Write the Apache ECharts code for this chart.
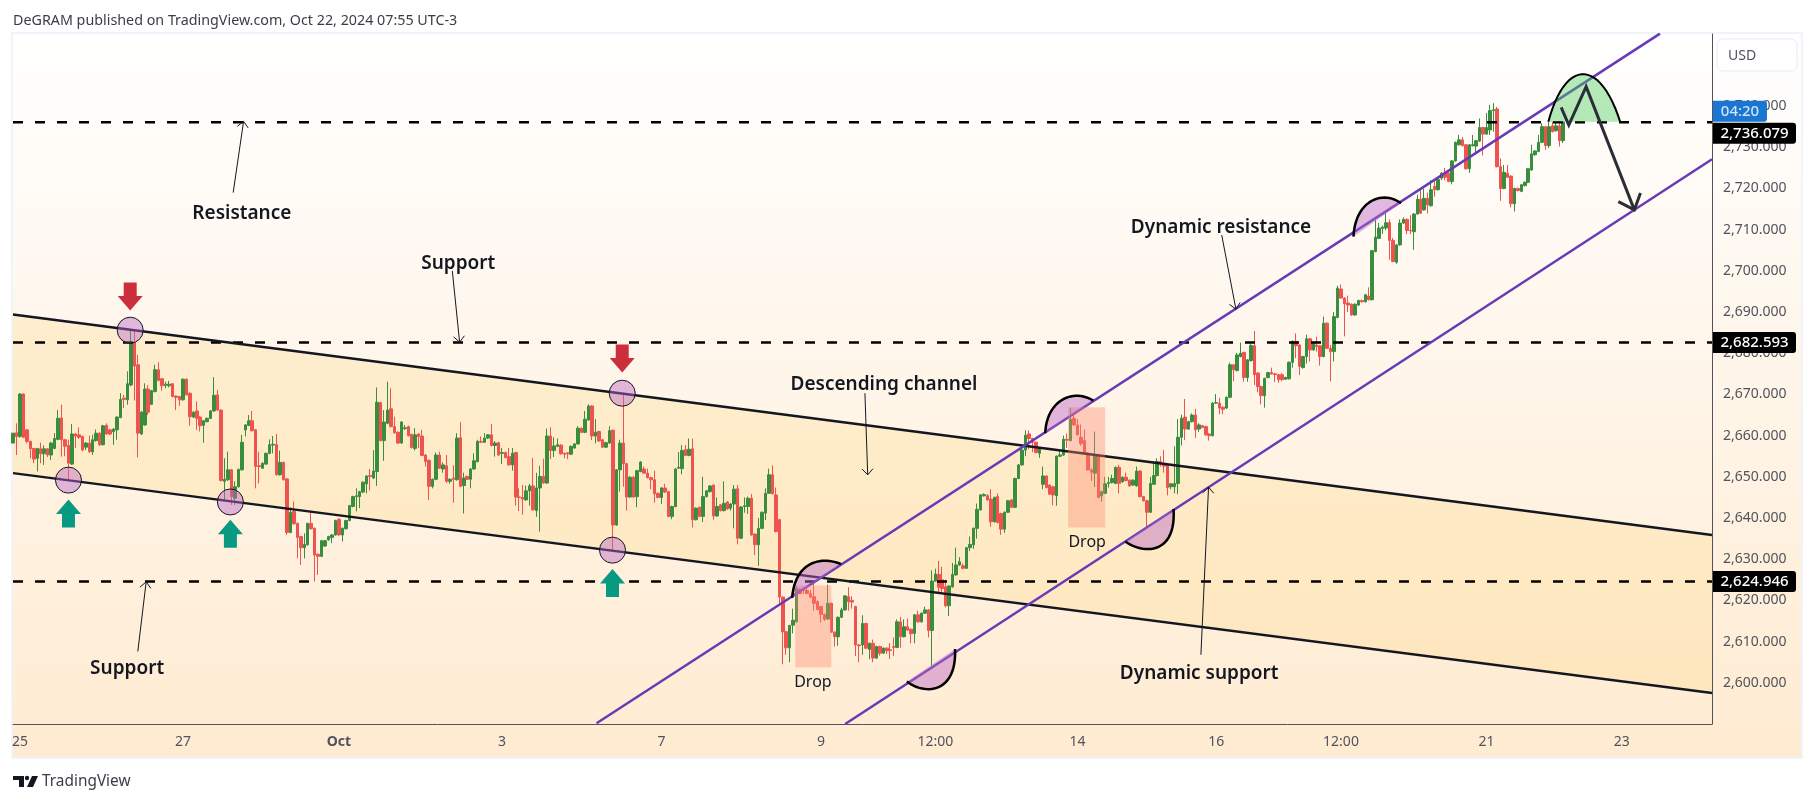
<!DOCTYPE html>
<html>
<head>
<meta charset="utf-8">
<style>
html,body{margin:0;padding:0;background:#fff}
#main{width:1815px;height:802px}
</style>
<script src="https://cdn.jsdelivr.net/npm/echarts@6/dist/echarts.min.js"></script>
</head>
<body>
<div id="main"></div>
<script>
// hourly candles: open, close, low, high
var candles = [
[2658.2,2660.6,2658.2,2660.6],[2660.7,2659.8,2655.3,2663],[2659.8,2670.1,2659.5,2670.3],[2670.1,2659.6,2659.4,2670.3],[2661.4,2658.6,2658.1,2661.6],
[2658.6,2656.8,2654.5,2658.8],[2656.9,2654.3,2653.3,2657],[2654.5,2656.9,2651.3,2657],[2656.8,2655.6,2653.3,2658.3],[2655.6,2656.8,2652.9,2657.6],
[2656.8,2655.3,2654.8,2657],[2655.3,2658.2,2654.1,2658.5],[2656.9,2659.3,2656.7,2660.6],[2659.1,2664.2,2658.9,2666.2],[2664.3,2659,2654.9,2667.5],
[2659,2657.4,2655,2659.2],[2657.6,2653.3,2649.3,2659],[2653.1,2660.4,2652.9,2662.8],[2660.4,2659.9,2657,2660.6],[2660.2,2659.6,2659.2,2662],
[2659.8,2656.5,2656.2,2660],[2657.2,2658.2,2656.5,2658.4],[2658.2,2656.1,2655.8,2660],[2656.1,2659,2655.3,2660.2],[2658.8,2660.6,2658.5,2661.5],
[2660.6,2657.8,2657.5,2660.8],[2657.8,2662.4,2657.6,2662.6],[2662.5,2660.4,2660.2,2663],[2661.4,2660.4,2660.2,2661.6],[2661,2661.6,2657.8,2661.8],
[2661.4,2664.5,2659,2664.7],[2664.4,2668.8,2664.2,2670.3],[2669.1,2668.8,2666.7,2669.9],[2668.7,2672.6,2667.5,2675.6],[2672.3,2682.7,2672,2685.7],
[2682.6,2676.9,2668.5,2685.7],[2677.2,2660.6,2654.7,2679.6],[2660.4,2665.7,2660.2,2666],[2662.6,2671.3,2662.4,2672.7],[2671.3,2665.7,2665,2672.3],
[2667.6,2670.9,2667.4,2671.1],[2670.7,2676,2670.5,2677.2],[2676,2673.4,2673.2,2677.8],[2673.8,2672.1,2670.9,2674],[2672.2,2672.5,2671.5,2673.1],
[2672.1,2672.5,2671.7,2673.3],[2672.6,2669.5,2669.3,2672.8],[2669.6,2669.3,2666.2,2669.8],[2669.5,2668.7,2667.2,2669.7],[2668.7,2673.7,2668.5,2673.9],
[2673.7,2669.9,2669.7,2673.9],[2670.3,2664.6,2662.4,2670.5],[2664.5,2665.7,2664.3,2665.9],[2666,2664.2,2661.4,2668.3],[2664.5,2662.4,2661,2664.7],
[2662.5,2663.6,2658.3,2663.8],[2663.4,2664.2,2663.2,2664.4],[2664.2,2666,2664,2666.2],[2666,2669.8,2665.8,2674.2],[2669.9,2666.2,2666,2671.1],
[2666.2,2649.1,2648.9,2666.4],[2648.9,2649.4,2644.4,2654.5],[2649.3,2651.7,2649,2656.1],[2651.7,2645.2,2643.2,2651.9],[2644.8,2647.6,2643.2,2648.9],
[2647.6,2651.8,2647.4,2652],[2651.7,2658.4,2651.5,2660.2],[2661.4,2662.6,2659.8,2662.8],[2662.5,2663.6,2662.3,2665],[2663.6,2661.2,2661,2666],
[2661.4,2652.5,2647.2,2661.6],[2652.7,2652.5,2648.4,2656.1],[2652.1,2653.3,2651.9,2653.5],[2653.1,2655.7,2652.9,2655.9],[2655.7,2657.8,2655.5,2659.1],
[2657.7,2657.9,2655.7,2659.9],[2657.8,2650.5,2650.3,2660.4],[2650.5,2653.5,2650.3,2656.4],[2653.5,2649.3,2649.1,2653.7],[2649.5,2636.5,2635.9,2649.7],
[2636.5,2641.4,2636.3,2642.6],[2641.6,2638.6,2638.4,2644],[2638.7,2635.3,2630.2,2638.9],[2635.5,2632.8,2628.6,2635.7],[2632.8,2633.6,2630.2,2636.3],
[2633.5,2638.7,2633.3,2638.9],[2638.7,2637.4,2637.2,2641.6],[2637.5,2631,2624.6,2637.7],[2631.2,2630.7,2626.2,2631.4],[2630.7,2634.5,2630.5,2634.7],
[2633.2,2634.5,2633,2634.7],[2634.7,2635.5,2634.5,2635.7],[2635.3,2635.9,2633.9,2636.1],[2635.9,2639.4,2635.7,2639.6],[2639.7,2635.9,2635.7,2639.9],
[2635.9,2637.5,2634.3,2637.7],[2637.4,2639.4,2637.2,2639.6],[2639.4,2643,2639.2,2643.2],[2642.8,2645.2,2642.6,2645.4],[2645.2,2645.4,2641.6,2647.2],
[2645.2,2646.4,2642.4,2646.6],[2646.3,2648.7,2646.1,2648.9],[2648.3,2650.2,2646,2650.4],[2650.3,2650.1,2646.7,2651.9],[2649.7,2651.4,2649.5,2656.5],
[2651.3,2668.1,2647.8,2671.7],[2668,2658.8,2658.6,2668.2],[2658.8,2663.3,2653.9,2666.2],[2663,2666.2,2662.8,2673.1],[2666.5,2662.2,2662,2671.5],
[2662.2,2660.7,2660.5,2664.6],[2660.8,2658.2,2658,2661],[2658.2,2663.3,2658,2663.5],[2661.7,2661.9,2661.4,2662.6],[2662.2,2660,2659.8,2662.4],
[2660.3,2657.1,2656.9,2660.5],[2656.9,2660.2,2656.4,2661.8],[2660.4,2659.8,2657,2660.6],[2659.9,2655.2,2655,2661.4],[2655.3,2653.7,2652.5,2655.5],
[2654,2647.7,2644.4,2654.2],[2647.7,2649.4,2647.2,2649.6],[2649.4,2655.3,2649.2,2655.9],[2655.3,2652.1,2651.9,2656.1],[2651.9,2652.9,2651,2653.5],
[2652.7,2648.9,2648.5,2655.3],[2648.9,2649.4,2648.3,2649.6],[2649.7,2649.4,2643.7,2652.8],[2649.3,2659.4,2649.1,2660.6],[2659.5,2647.7,2647.5,2663.3],
[2647.9,2649.7,2641.1,2651],[2650.1,2649.4,2649.2,2650.3],[2649.4,2651.9,2647.2,2652.1],[2651.9,2653.9,2651.7,2655.7],[2653.7,2658.6,2653.5,2659],
[2658.6,2658.4,2658.2,2659.8],[2658.4,2659.4,2658.2,2660.6],[2659.4,2660.2,2659.2,2660.4],[2660.2,2657.6,2657.4,2662.8],[2657.6,2658.2,2654.9,2658.7],
[2658.3,2655.3,2655.1,2658.5],[2655.7,2655.9,2653.1,2657],[2655.9,2654.7,2654.5,2656.1],[2654.9,2652.9,2652.7,2657],[2652.9,2655.7,2651.5,2657],
[2655.9,2645.1,2643,2656.1],[2645.1,2645,2641.7,2647.2],[2645,2644.6,2640.8,2648],[2644.4,2646.6,2644.2,2647.9],[2646.6,2647.8,2643,2648.3],
[2647.8,2642,2641.8,2654.6],[2641.8,2647.3,2640.3,2651],[2647.3,2650.1,2636.7,2652.7],[2650.1,2648.5,2648.3,2654.4],[2648.5,2659.9,2648.3,2661.7],
[2659.9,2656.4,2654.3,2662],[2656.4,2657.5,2654.8,2659.6],[2657.4,2657.8,2657.2,2659.3],[2657.7,2655.6,2655.4,2657.9],[2655.7,2655.5,2654.5,2655.9],
[2655.8,2655.6,2654.3,2656],[2655.5,2657.4,2655.3,2657.6],[2657,2658,2656.8,2658.2],[2658,2661.8,2657.8,2662.3],[2661.8,2660.8,2660.6,2662],
[2660.8,2664,2660.6,2666],[2663.8,2667.2,2663.6,2667.6],[2667.2,2659.9,2658.9,2667.4],[2659.9,2660.8,2658.1,2664],[2661,2658.7,2658.5,2661.2],
[2659,2657.2,2657,2659.2],[2657.2,2658.3,2657,2658.5],[2658.2,2661.2,2658,2662.3],[2661.3,2638.3,2632,2661.5],[2638.3,2651.7,2638.1,2651.9],
[2651.7,2658.2,2646.4,2659],[2658.2,2653.2,2647.6,2670.3],[2653.2,2645.1,2641.8,2653.4],[2645.1,2649.9,2644.9,2650.2],[2649.9,2645.1,2644.9,2650.2],
[2645.2,2651.5,2642.6,2651.7],[2651.3,2653.6,2651.1,2653.8],[2651.9,2650.9,2650.7,2652.5],[2650.9,2649.8,2649.6,2652],[2649.8,2649.3,2647,2650],
[2649.3,2645.9,2643.7,2651.5],[2646,2645,2644.8,2646.2],[2645,2647.3,2643.4,2647.5],[2647.3,2646.3,2646.1,2648.3],[2646.4,2640.4,2640.2,2646.6],
[2640.4,2642.8,2639.7,2643],[2642.8,2651.9,2642.6,2652.1],[2652.1,2652.3,2651.9,2656],[2652,2656.4,2650.6,2657.7],[2656.6,2655.2,2655,2657.7],
[2655.2,2656.7,2655,2659.3],[2656.8,2639.6,2637.7,2659.3],[2639.6,2642.4,2639.4,2642.6],[2642.6,2640.4,2640.2,2642.8],[2640.4,2645.2,2639,2650],
[2645.2,2646.6,2645,2646.8],[2646.4,2647.8,2646.2,2648],[2648,2640.5,2639.6,2648.2],[2640.5,2642.8,2640.3,2645],[2643.2,2641.8,2641.6,2643.4],
[2641.8,2643.6,2641.6,2648.9],[2643.9,2642.2,2642,2644.1],[2642.4,2643.4,2641.8,2643.6],[2643.4,2647,2637.5,2648],[2647.1,2635.1,2633.6,2648],
[2635.1,2642.7,2634.9,2642.9],[2642.8,2643,2641.3,2645],[2642.8,2644.8,2641,2645.2],[2644.8,2635.9,2635.7,2645.8],[2636.1,2633.5,2631,2636.3],
[2633.5,2637.5,2628.4,2640],[2637.5,2641.4,2637.3,2641.6],[2641.2,2646,2639.5,2647.2],[2646,2650.5,2646,2652],[2650.5,2645.9,2645.7,2652.8],
[2645.6,2636.7,2636.5,2647.4],[2639.6,2620.8,2619.2,2639.8],[2620.8,2612.4,2604.5,2621],[2612.4,2608.5,2606.8,2612.6],[2608.5,2613.9,2605,2614.1],
[2614,2615.2,2612,2618],[2614.8,2622.9,2614.6,2623.5],[2622.7,2621.7,2621.5,2623],[2622.5,2622.4,2621.5,2623],[2622.4,2621.7,2621.5,2623],
[2621.7,2620.8,2620.6,2622.5],[2620.9,2619.3,2617.5,2624],[2619.7,2617.8,2617.6,2620],[2618.5,2616.6,2614.6,2618.7],[2616.6,2615.4,2615,2616.8],
[2615.5,2619.3,2615.3,2623.8],[2619.3,2612.3,2612.1,2619.5],[2612.3,2611.2,2608.8,2612.5],[2611.2,2615.9,2609,2616.1],[2615.9,2617.7,2615.7,2618.2],
[2617.7,2621.1,2617.5,2621.3],[2620.9,2619.7,2617.5,2623.2],[2620,2619.6,2618,2621],[2618.5,2609.2,2606.5,2618.7],[2609.2,2609,2605,2609.4],
[2609.2,2614.4,2606.8,2616.4],[2614.4,2608.4,2608.2,2614.6],[2608.1,2609.6,2605.7,2609.8],[2609.6,2606,2605,2610.5],[2606,2608.8,2605.8,2609],
[2608.8,2607.2,2606.6,2609],[2607.2,2608.4,2607,2608.6],[2608.4,2607.8,2607,2608.6],[2608,2607.9,2605.8,2609.6],[2608.8,2608.6,2606.5,2611],
[2608.6,2614.8,2608.4,2615.4],[2614.8,2611.2,2608.5,2616],[2611.2,2613.6,2611,2615.4],[2613.6,2612.8,2612.6,2615.6],[2613,2611.9,2609.6,2613.2],
[2612,2616.5,2609.6,2616.7],[2616.5,2614.8,2614.6,2617.5],[2614.8,2616.9,2614.6,2617.1],[2616.9,2617.7,2616.7,2618.5],[2617.7,2612.7,2611,2617.9],
[2612.7,2624.7,2604.2,2627.3],[2624.7,2626.4,2624.5,2627.7],[2626.3,2623.2,2622,2629.6],[2625,2622.9,2621.7,2628.2],[2623.3,2618.7,2618.3,2625],
[2618.7,2623.5,2616.2,2623.7],[2623.3,2626.3,2623.1,2629.1],[2626.2,2628.6,2626,2632.8],[2628.6,2629.4,2628.4,2630.5],[2628.4,2627.8,2627.6,2629],
[2627.8,2632.8,2627.6,2633],[2632.8,2633.6,2632,2635.5],[2633.5,2637.5,2632.5,2637.7],[2637.5,2642.1,2635,2643.5],[2642,2645.6,2641.8,2645.8],
[2645.4,2645.7,2645.2,2646],[2645.4,2644.4,2644.2,2645.8],[2644.6,2639.1,2637.9,2647],[2639.1,2645,2638.9,2645.2],[2645.2,2638.9,2638.7,2646],
[2641.1,2637.3,2635.9,2641.3],[2637.3,2641.4,2636.4,2641.6],[2641.4,2644.2,2641.2,2644.4],[2644.4,2642.6,2642.4,2644.6],[2642.6,2649.6,2642.4,2649.8],
[2649.6,2652.9,2649.4,2653.1],[2652.9,2656.5,2652.7,2657],[2656.5,2660.1,2655,2661.3],[2660.4,2659.3,2656.7,2661.3],[2659.3,2658.4,2656,2659.5],
[2658.4,2655.9,2655.7,2658.6],[2655.7,2656.9,2654.6,2657.1],[2648.2,2650.2,2647,2652.5],[2650.2,2647.4,2647.2,2650.4],[2648,2645.8,2645.6,2648.2],
[2647.6,2645.6,2643.1,2647.8],[2645.4,2655,2643,2655.2],[2655,2655.3,2654.8,2656.5],[2655.3,2659.1,2655.1,2660],[2659.1,2658.9,2657,2660.5],
[2658.8,2664,2658.6,2666.7],[2664.2,2662.6,2662.4,2665],[2662.6,2660.2,2660,2664],[2659.6,2658.1,2657.5,2662.7],[2658.8,2655.9,2655.7,2661.5],
[2655.7,2651.7,2651.5,2656],[2651.7,2651.1,2649,2652],[2650.9,2655.3,2647.6,2661],[2655.3,2645,2644.8,2655.5],[2645.4,2646.4,2644,2646.6],
[2646,2648.3,2645.8,2650],[2648.4,2648.6,2647.4,2650],[2648.6,2649.6,2648.4,2650.5],[2648.4,2652.3,2648.2,2652.5],[2652.3,2648.4,2646,2652.9],
[2648.8,2649.9,2648.6,2650.1],[2649.9,2649.1,2648.9,2651],[2649.2,2647.8,2647.6,2649.4],[2648,2649.2,2647.8,2649.4],[2647.8,2651.4,2647.6,2652.5],
[2651.4,2645.2,2645,2651.6],[2645.2,2644.2,2644,2645.4],[2644.2,2641.4,2637.9,2644.4],[2641.4,2648.4,2641.2,2650],[2648.2,2650.3,2648,2653.8],
[2650.3,2653.7,2650.1,2654.5],[2653.7,2653.1,2652.5,2655],[2653.3,2652.6,2651,2656.5],[2652.8,2647.4,2645.5,2653],[2647.6,2648.3,2647,2648.5],
[2647.6,2648.4,2646,2657.4],[2648.4,2659.6,2645.8,2664],[2659.6,2664.2,2657.6,2665.1],[2664.5,2661.6,2658.9,2668.9],[2661.6,2663.4,2661.4,2663.6],
[2663.4,2665,2663.2,2665.4],[2665,2661.4,2659.5,2666.5],[2661.6,2662.6,2660.9,2663],[2662.4,2662,2661.8,2662.6],[2662.2,2660.2,2660,2662.4],
[2660.4,2660,2658.8,2660.6],[2660,2667.9,2659.8,2668.1],[2667.9,2668,2667.7,2670.1],[2667.9,2666.7,2665.2,2669.2],[2666.9,2666.4,2665.2,2667.1],
[2666.7,2669.3,2666.5,2669.5],[2669.3,2677.2,2669.1,2677.7],[2677.2,2676,2673.2,2677.4],[2675.8,2679.6,2675.6,2680.1],[2679.2,2680,2679,2682.6],
[2680.2,2674.1,2673.1,2680.4],[2674.1,2678.4,2673.1,2678.6],[2678.2,2681.9,2678,2682.2],[2681.8,2674.8,2672.3,2685.4],[2675.2,2671.9,2670.5,2675.4],
[2671.9,2669.7,2667.6,2672.1],[2669.7,2673.9,2666.8,2674.1],[2674.1,2675.3,2673.9,2675.5],[2675.3,2675,2674.8,2676.5],[2675,2674.8,2673,2675.2],
[2674.8,2673.6,2672.8,2675],[2674.8,2673.6,2673.2,2675.2],[2673.7,2674.1,2673.5,2674.3],[2673.8,2677.8,2673.6,2678],[2677.8,2682.9,2676.5,2683.1],
[2682.9,2681.8,2678.8,2684.8],[2682,2676.8,2674.7,2682.2],[2676.5,2679.2,2676.3,2679.4],[2679.2,2683.5,2677.5,2684.5],[2683.5,2680.8,2678,2683.7],
[2680.8,2682.3,2680.6,2682.5],[2682,2681.6,2680.4,2684],[2681.8,2679.2,2677,2682],[2679.2,2687.3,2679,2688.9],[2687.3,2681.2,2681,2687.5],
[2681.2,2680.4,2673.2,2682],[2680.4,2688.9,2678,2690],[2688.7,2695.8,2688.5,2696.4],[2695.6,2693.4,2693.2,2696.7],[2693.4,2692,2684.1,2693.6],
[2692.2,2691.7,2690,2694],[2691.9,2689.3,2689.1,2692.1],[2689.3,2691.9,2689.1,2692.1],[2691.7,2692.8,2691.5,2693],[2692.8,2692.5,2692.3,2693],
[2692.5,2694.2,2692.3,2694.4],[2693.9,2693,2692.8,2696],[2693,2704.9,2692.8,2705.1],[2704.7,2708.2,2704.5,2712.4],[2707.9,2710.4,2707.7,2711.6],
[2710.3,2710.6,2709,2711],[2710.4,2711.7,2709.9,2714],[2711.7,2707.4,2702.7,2712.5],[2707.4,2702.3,2702.1,2708],[2702.1,2706.3,2701.7,2706.5],
[2706.3,2711.6,2706.1,2712.5],[2711.6,2712.5,2711.4,2713],[2712.5,2709.8,2708.9,2712.7],[2709.8,2709.7,2708.9,2713.5],[2709.5,2713.8,2705.1,2714],
[2713.8,2717.4,2713.6,2718.5],[2717.4,2714,2713.8,2720],[2714.8,2717.6,2714.6,2720],[2717.6,2716,2713.9,2719],[2715.8,2719.7,2715.6,2722],
[2720.5,2719.7,2718,2722],[2719.7,2722.2,2719.5,2722.4],[2722.5,2723.7,2722,2724],[2723.7,2722.7,2722,2725],[2723.7,2721.7,2721.5,2724.5],
[2721.7,2726.7,2721,2726.9],[2726.7,2731.2,2726.5,2731.4],[2730.6,2731.8,2730.4,2733],[2731.8,2730.4,2730.2,2732.5],[2730.6,2724.8,2724.6,2730.8],
[2724.8,2730.6,2723.8,2730.8],[2730.4,2730.6,2730.2,2733],[2730.3,2731.6,2728.5,2731.8],[2731.5,2734.8,2731.3,2737],[2734.8,2733.2,2728,2735],
[2733.2,2734.8,2733,2738.3],[2734.2,2738.9,2733,2740.3],[2738.9,2739.1,2733.8,2740.7],[2739.3,2725.3,2725.1,2739.8],[2725.3,2720,2717,2727.3],
[2720,2723.9,2719.8,2725.7],[2723.7,2722.7,2722.5,2725.7],[2723,2716.3,2715.4,2723.2],[2716.3,2720,2714.4,2720.2],[2720,2719.5,2719.3,2720.2],
[2719.3,2720.9,2719.1,2721.1],[2720.7,2721.5,2720.5,2721.7],[2721.5,2724.8,2721.3,2725],[2724.5,2728.4,2724.3,2730.6],[2728.2,2729.1,2727.9,2729.3],
[2729,2731.2,2728.8,2733],[2731.2,2735,2731,2735.8],[2735,2730.4,2729.4,2735.2],[2730.4,2735,2729.8,2736.2],[2735.2,2733.8,2733.6,2736.2],
[2734,2735.2,2733.8,2736.2],[2735.2,2731.6,2730.2,2736.2],[2731.6,2736.1,2731,2736.2]
];

// time axis: 491 hourly slots, only these carry a label
var slotCount = 491;
var tickSlots = [2,49,94,141,187,233,266,307,347,383,425,464];
var tickTexts = ['25','27','Oct','3','7','9','12:00','14','16','12:00','21','23'];

var yMin = 2590, yMax = 2757.5;

// levels and channels, points are [slot, price]
var levelPrices = [2736.079, 2682.593, 2624.6];
var descendingUpper = [[0,2689.4],[490,2635.9]];
var descendingLower = [[0,2650.9],[490,2597.5]];
var risingUpper = [[168.3,2590.2],[475,2757.6]];
var risingLower = [[240,2590],[490,2727.1]];

var dropZones = [
	[[225.6,2623.6],[236,2623.6],[236,2603.7],[225.6,2603.7]],
	[[304.3,2666.9],[315,2666.9],[315,2637.7],[304.3,2637.7]]
];

// start, two control points, end
var pinkArcs = [
	[[224.7,2620.6],[225.6,2629.9],[233.7,2630.7],[238.8,2628.8]],
	[[297.7,2660.6],[298.1,2668.7],[305.8,2671.5],[311.6,2668.5]],
	[[257.8,2600.3],[262.6,2597.1],[272.2,2597.1],[271.7,2608.2]],
	[[320.8,2634.3],[326,2631.1],[335.6,2631.1],[334.7,2642.2]],
	[[386.6,2708.3],[387.1,2717.2],[395.2,2719.7],[400.3,2716.4]]
];
var greenDome = [[[442.8,2736.2],[447.7,2751.6],[457.7,2751.6],[463.5,2736.2]]];

var touchCircles = [[16,2649.2],[33.8,2685.6],[62.7,2643.9],[175.7,2670.3],[172.9,2632.2]];
var upMarks = [[16,2644.5],[62.7,2639.6],[172.9,2627.6]];
var downMarks = [[33.8,2690.4],[175.7,2675.3]];

// thin arrows, tail then tip
var thinArrows = [
	[[63.5,2719],[66.5,2736.3]],
	[[126.7,2700],[128.8,2682.7]],
	[[36,2607.6],[38.4,2624.5]],
	[[245.7,2670.3],[246.5,2650.5]],
	[[348.6,2708.7],[352.7,2690.7]],
	[[342.6,2606.8],[344.8,2647.5]]
];
var forecastPath = [[[446.5,2739.7],[448.7,2735.4],[453.7,2744.7],[467.6,2714.8]]];

var bigNotes = [
	[66,2713.8,'Resistance'],
	[128.4,2701.7,'Support'],
	[32.9,2603.4,'Support'],
	[251.2,2672.3,'Descending channel'],
	[348.4,2710.4,'Dynamic resistance'],
	[342.1,2602.2,'Dynamic support']
];
var smallNotes = [
	[230.7,2600.2,'Drop'],
	[309.8,2634,'Drop']
];

// label on the price scale: price, text, fill, width, shift down, text colour
var scaleTags = [
	[2736.079,'04:20','#1976d2',54,-11,'#cfe3f7'],
	[2736.079,'2,736.079','#000000',83,11,'#ffffff'],
	[2682.593,'2,682.593','#000000',83,0,'#ffffff'],
	[2624.6,'2,624.946','#000000',83,0,'#ffffff']
];

var FONT = '"Noto Sans", sans-serif';
var categories = [];
for (var s = 0; s < slotCount; s++) {
	var at = tickSlots.indexOf(s);
	categories.push(at >= 0 ? tickTexts[at] : '');
}

function lineSeries(points, color, width, dash, z) {
	return {
		type: 'line', xAxisIndex: 1, yAxisIndex: 0, data: points, symbol: 'none', silent: true, z: z,
		lineStyle: {color: color, width: width, type: dash}
	};
}

// custom series drawing one shape for each list item, anchored through api.coord
function shapeSeries(list, z, draw) {
	return {
		type: 'custom', xAxisIndex: 1, yAxisIndex: 0, z: z, silent: true,
		data: list.map(function(item, k){ return [k, 2600]; }),
		encode: {x: 0, y: 1},
		renderItem: function(params, api){ return draw(list[params.dataIndex], api); }
	};
}

function toPixels(points, api) {
	return points.map(function(p){ return api.coord(p); });
}

function sampleCurve(b, api) {
	var p = toPixels(b, api), out = [];
	for (var t = 0; t <= 1.0001; t += 0.04) {
		var u = 1 - t;
		out.push([
			u*u*u*p[0][0] + 3*u*u*t*p[1][0] + 3*u*t*t*p[2][0] + t*t*t*p[3][0],
			u*u*u*p[0][1] + 3*u*u*t*p[1][1] + 3*u*t*t*p[2][1] + t*t*t*p[3][1]
		]);
	}
	return out;
}

function arcDraw(fill, width) {
	return function(b, api) {
		var pts = sampleCurve(b, api);
		return {type: 'group', children: [
			{type: 'polygon', shape: {points: pts}, style: {fill: fill}},
			{type: 'polyline', shape: {points: pts}, style: {stroke: '#000000', lineWidth: width, fill: 'none'}}
		]};
	};
}

function headPoints(tail, tip, len, spread) {
	var ang = Math.atan2(tail[1] - tip[1], tail[0] - tip[0]);
	return [
		[tip[0] + len * Math.cos(ang + spread), tip[1] + len * Math.sin(ang + spread)],
		tip,
		[tip[0] + len * Math.cos(ang - spread), tip[1] + len * Math.sin(ang - spread)]
	];
}

function noteDraw(size, weight) {
	return function(n, api) {
		var c = api.coord([n[0], n[1]]);
		return {type: 'text', style: {
			text: n[2], x: c[0], y: c[1], align: 'center', verticalAlign: 'middle',
			fill: '#131722', fontFamily: FONT, fontSize: size, fontWeight: weight
		}};
	};
}

// block arrow, tip at the anchor, dir -1 points up and 1 points down
function blockArrow(color, dir) {
	return function(a, api) {
		var c = api.coord(a), x = c[0], y = c[1];
		return {type: 'polygon', shape: {points: [
			[x, y], [x + 12.5, y - dir*14.5], [x + 6.5, y - dir*14.5], [x + 6.5, y - dir*28],
			[x - 6.5, y - dir*28], [x - 6.5, y - dir*14.5], [x - 12.5, y - dir*14.5]
		]}, style: {fill: color}};
	};
}

var series = [
	// channel fill under everything
	shapeSeries([[descendingUpper[0], descendingUpper[1], descendingLower[1], descendingLower[0]]], 1, function(poly, api){
		return {type: 'polygon', shape: {points: toPixels(poly, api)}, style: {fill: 'rgba(253,216,130,0.28)'}};
	}),
	{
		type: 'candlestick', xAxisIndex: 0, yAxisIndex: 0, data: candles, barWidth: 3, z: 3, silent: true,
		itemStyle: {color: '#388e3c', color0: '#ef5350', borderColor: '#388e3c', borderColor0: '#ef5350', borderWidth: 1}
	},
	lineSeries([[0,levelPrices[0]],[490,levelPrices[0]]], '#000000', 2.5, [10,12], 4),
	lineSeries([[0,levelPrices[1]],[490,levelPrices[1]]], '#000000', 2.5, [10,12], 4),
	lineSeries([[0,levelPrices[2]],[490,levelPrices[2]]], '#000000', 2.5, [10,12], 4),
	lineSeries(descendingUpper, '#131722', 2.5, 'solid', 4),
	lineSeries(descendingLower, '#131722', 2.5, 'solid', 4),
	lineSeries(risingUpper, '#673ab7', 2.5, 'solid', 4),
	lineSeries(risingLower, '#673ab7', 2.5, 'solid', 4),
	shapeSeries(dropZones, 5, function(poly, api){
		return {type: 'polygon', shape: {points: toPixels(poly, api)}, style: {fill: 'rgba(255,138,110,0.38)'}};
	}),
	shapeSeries(pinkArcs, 6, arcDraw('rgba(186,104,200,0.45)', 2.5)),
	shapeSeries(greenDome, 6, arcDraw('rgba(76,205,90,0.42)', 2)),
	shapeSeries(touchCircles, 7, function(c, api){
		var p = api.coord(c);
		return {type: 'circle', shape: {cx: p[0], cy: p[1], r: 13}, style: {fill: 'rgba(186,104,200,0.45)', stroke: '#131722', lineWidth: 1}};
	}),
	shapeSeries(upMarks, 7, blockArrow('#089981', -1)),
	shapeSeries(downMarks, 7, blockArrow('#cc2f3c', 1)),
	shapeSeries(thinArrows, 8, function(a, api){
		var tail = api.coord(a[0]), tip = api.coord(a[1]);
		return {type: 'group', children: [
			{type: 'polyline', shape: {points: [tail, tip]}, style: {stroke: '#131722', lineWidth: 1, fill: 'none'}},
			{type: 'polyline', shape: {points: headPoints(tail, tip, 8, 0.75)}, style: {stroke: '#131722', lineWidth: 1, fill: 'none'}}
		]};
	}),
	shapeSeries(forecastPath, 8, function(a, api){
		var pts = toPixels(a, api);
		return {type: 'group', children: [
			{type: 'polyline', shape: {points: pts}, style: {stroke: '#2a2e39', lineWidth: 3, fill: 'none'}},
			{type: 'polyline', shape: {points: headPoints(pts[2], pts[3], 18, 0.72)}, style: {stroke: '#2a2e39', lineWidth: 3, fill: 'none'}}
		]};
	}),
	shapeSeries(bigNotes, 9, noteDraw(19, 600)),
	shapeSeries(smallNotes, 9, noteDraw(16, 400)),
	shapeSeries(scaleTags, 10, function(t, api){
		var p = api.coord([490, t[0]]), x = p[0] + 1, y = p[1] + t[4];
		return {type: 'group', children: [
			{type: 'rect', shape: {x: x, y: y - 10.5, width: t[3], height: 21, r: [0,3,3,0]}, style: {fill: t[2]}},
			{type: 'text', style: {
				text: t[1], x: x + t[3] / 2, y: y, align: 'center', verticalAlign: 'middle',
				fill: t[5], fontFamily: FONT, fontSize: 15, fontWeight: 500
			}}
		]};
	})
];

var myChart = echarts.init(document.getElementById('main'));
myChart.setOption({
	animation: false,
	backgroundColor: '#ffffff',
	grid: {left: 13, right: 103, top: 34, bottom: 78},
	xAxis: [
		{
			type: 'category', data: categories, boundaryGap: false,
			axisLine: {onZero: false, lineStyle: {color: '#50535e', width: 1}},
			axisTick: {show: false}, splitLine: {show: false},
			axisLabel: {
				margin: 11, color: '#50535e', fontFamily: FONT, fontSize: 14,
				interval: function(i){ return tickSlots.indexOf(i) >= 0; },
				formatter: function(v){ return v === 'Oct' ? '{b|Oct}' : v; },
				rich: {b: {fontWeight: 700, color: '#50535e', fontFamily: FONT, fontSize: 14}}
			}
		},
		{type: 'value', min: 0, max: 490, show: false}
	],
	yAxis: {
		type: 'value', position: 'right', min: yMin, max: yMax, interval: 10, scale: true,
		axisLine: {show: true, onZero: false, lineStyle: {color: '#50535e', width: 1}},
		axisTick: {show: false}, splitLine: {show: false},
		axisLabel: {
			margin: 11, color: '#50535e', fontFamily: FONT, fontSize: 14,
			formatter: function(v){
				if (v < 2600 || v > 2745) return '';
				return String(v).slice(0,1) + ',' + String(v).slice(1) + '.000';
			}
		}
	},
	graphic: [
		{type: 'rect', z: -1, silent: true, shape: {x: 12, y: 33, width: 1790, height: 725},
			style: {
				stroke: '#f0f3fa', lineWidth: 2,
				fill: new echarts.graphic.LinearGradient(0, 0, 0, 1, [
					{offset: 0, color: '#ffffff'}, {offset: 1, color: '#ffebd1'}
				])
			}},
		{type: 'rect', z: 20, silent: true, shape: {x: 1717, y: 39, width: 80, height: 32, r: 6},
			style: {fill: '#ffffff', stroke: '#e9ebf2', lineWidth: 1}},
		{type: 'text', z: 21, silent: true, style: {text: 'USD', x: 1728, y: 56, verticalAlign: 'middle', fill: '#50535e', fontFamily: FONT, fontSize: 14}},
		{type: 'text', silent: true, style: {text: 'DeGRAM published on TradingView.com, Oct 22, 2024 07:55 UTC-3', x: 13, y: 21, verticalAlign: 'middle', fill: '#3a3d46', fontFamily: FONT, fontSize: 14.3}},
		{type: 'rect', silent: true, shape: {x: 13, y: 776, width: 11, height: 4}, style: {fill: '#131722'}},
		{type: 'rect', silent: true, shape: {x: 19, y: 776, width: 5, height: 11}, style: {fill: '#131722'}},
		{type: 'circle', silent: true, shape: {cx: 27, cy: 778, r: 2.2}, style: {fill: '#131722'}},
		{type: 'polygon', silent: true, shape: {points: [[32,776],[38,776],[33,787],[27,787]]}, style: {fill: '#131722'}},
		{type: 'text', silent: true, style: {text: 'TradingView', x: 42, y: 782, verticalAlign: 'middle', fill: '#3a3d46', fontFamily: FONT, fontSize: 15.4}}
	],
	series: series
});
</script>
</body>
</html>
